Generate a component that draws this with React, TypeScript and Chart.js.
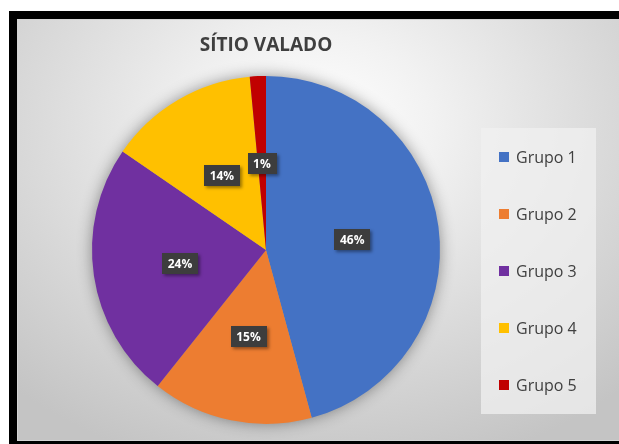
import React, { useEffect, useRef } from "react";
import { Chart, registerables } from "chart.js";

Chart.register(...registerables);

const TITLE = "SÍTIO VALADO";
const categories = ["Grupo 1", "Grupo 2", "Grupo 3", "Grupo 4", "Grupo 5"];
const values = [46, 15, 24, 14, 1.5];
const colors = ["#4472C4", "#ED7D31", "#7030A0", "#FFC000", "#C00000"];

const FONT = '"Open Sans", "Noto Sans", sans-serif';

const pieShadow = {
  id: "pieShadow",
  beforeDatasetsDraw(chart: any) {
    const arc = chart.getDatasetMeta(0).data[0];
    if (!arc) return;
    const { x, y, outerRadius } = arc;
    const ctx = chart.ctx;
    ctx.save();
    ctx.shadowColor = "rgba(0,0,0,0.45)";
    ctx.shadowBlur = 16;
    ctx.beginPath();
    ctx.arc(x, y, outerRadius - 1, 0, Math.PI * 2);
    ctx.fillStyle = "#999";
    ctx.fill();
    ctx.restore();
  },
};

const dataLabels = {
  id: "dataLabels",
  afterDatasetsDraw(chart: any) {
    const ctx = chart.ctx;
    const ds = chart.data.datasets[0].data as number[];
    const total = ds.reduce((a, b) => a + b, 0);
    const meta = chart.getDatasetMeta(0);
    ctx.save();
    ctx.font = `bold 12px ${FONT}`;
    ctx.textAlign = "center";
    ctx.textBaseline = "middle";
    meta.data.forEach((arc: any, i: number) => {
      const p = arc.tooltipPosition();
      const text = Math.round((ds[i] / total) * 100) + "%";
      const w = ctx.measureText(text).width + 11;
      const h = 21;
      const cy = p.y + 1;
      ctx.save();
      ctx.shadowColor = "rgba(0,0,0,0.4)";
      ctx.shadowBlur = 3;
      ctx.shadowOffsetX = 2;
      ctx.shadowOffsetY = 2;
      ctx.fillStyle = "#3d3d3d";
      ctx.fillRect(Math.round(p.x - w / 2), Math.round(cy - h / 2), Math.round(w), h);
      ctx.restore();
      ctx.fillStyle = "#ffffff";
      ctx.fillText(text, p.x, cy + 1);
    });
    ctx.restore();
  },
};

const sideLegend = {
  id: "sideLegend",
  afterDraw(chart: any) {
    const ctx = chart.ctx;
    const labels = chart.data.labels as string[];
    const bg = chart.data.datasets[0].backgroundColor as string[];
    ctx.save();
    ctx.fillStyle = "rgba(240,240,240,0.75)";
    ctx.fillRect(464, 109, 115, 286);
    ctx.font = `16px ${FONT}`;
    ctx.textBaseline = "middle";
    ctx.textAlign = "left";
    labels.forEach((lab, i) => {
      const cy = 138 + i * 57;
      ctx.fillStyle = bg[i];
      ctx.fillRect(482, cy - 5, 10, 10);
      ctx.fillStyle = "#404040";
      ctx.fillText(lab, 499, cy + 1);
    });
    ctx.restore();
  },
};

function PieChart() {
  const ref = useRef<HTMLCanvasElement | null>(null);
  useEffect(() => {
    if (!ref.current) return;
    const chart = new Chart(ref.current, {
      type: "pie",
      data: {
        labels: categories,
        datasets: [
          {
            data: values,
            backgroundColor: colors,
            borderWidth: 0,
          },
        ],
      },
      options: {
        animation: false,
        responsive: false,
        maintainAspectRatio: false,
        layout: { padding: { left: 75, right: 179, top: 0, bottom: 17 } },
        plugins: {
          legend: { display: false },
          tooltip: { enabled: false },
          title: {
            display: true,
            text: TITLE,
            color: "#3f3f3f",
            font: { family: FONT, size: 19, weight: "bold", lineHeight: 1.2 },
            padding: { top: 15, bottom: 19 },
          },
        },
      },
      plugins: [pieShadow, dataLabels, sideLegend],
    });
    return () => chart.destroy();
  }, []);
  return <canvas ref={ref} width={602} height={422} style={{ display: "block" }} />;
}

export default function App() {
  return (
    <div
      style={{
        position: "absolute",
        left: 0,
        top: 0,
        width: 619,
        height: 444,
        overflow: "hidden",
        background: "#ffffff",
      }}
    >
      <div
        style={{
          position: "absolute",
          left: 9,
          top: 11,
          width: 640,
          height: 450,
          background: "#000000",
        }}
      />
      <div
        style={{
          position: "absolute",
          left: 17,
          top: 19,
          width: 602,
          height: 422,
          boxSizing: "border-box",
          border: "1px solid #d4d4d4",
          borderRight: "none",
          background:
            "radial-gradient(ellipse 75% 85% at 50% 25%, #ffffff 0%, #f2f2f2 25%, #dcdcdc 60%, #c4c4c4 100%)",
        }}
      >
        <div style={{ position: "absolute", left: -1, top: -1 }}>
          <PieChart />
        </div>
      </div>
    </div>
  );
}
